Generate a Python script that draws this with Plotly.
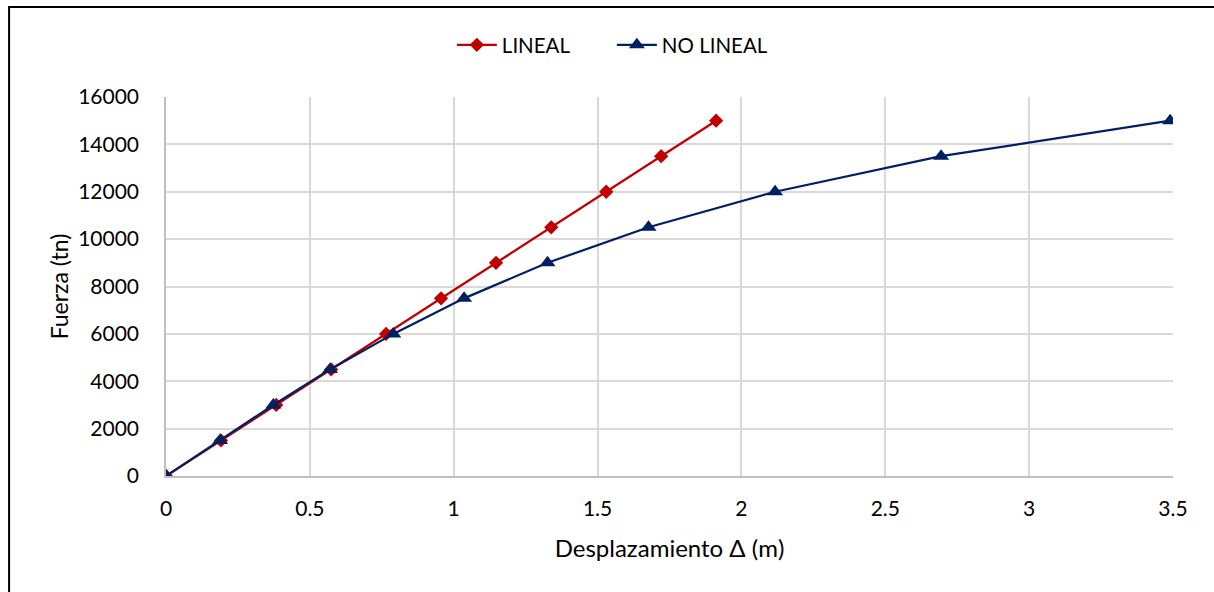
import plotly.graph_objects as go

fuerza = [0, 1500, 3000, 4500, 6000, 7500, 9000, 10500, 12000, 13500, 15000]
desp_lineal = [0, 0.191, 0.383, 0.574, 0.765, 0.956, 1.147, 1.339, 1.530, 1.721, 1.912]
desp_no_lineal = [0, 0.188, 0.373, 0.570, 0.790, 1.036, 1.326, 1.677, 2.117, 2.694, 3.49]

x_ticks = [0, 0.5, 1, 1.5, 2, 2.5, 3, 3.5]
x_tick_labels = ["0", "0.5", "1", "1.5", "2", "2.5", "3", "3.5"]
y_ticks = [0, 2000, 4000, 6000, 8000, 10000, 12000, 14000, 16000]
y_tick_labels = ["0", "2000", "4000", "6000", "8000", "10000", "12000", "14000", "16000"]

FONT = "Lato"

fig = go.Figure()
fig.add_trace(go.Scatter(
    x=desp_lineal, y=fuerza, name="LINEAL", mode="lines+markers",
    line=dict(color="#C00000", width=2.25),
    marker=dict(symbol="diamond", size=11, color="#C00000"),
))
fig.add_trace(go.Scatter(
    x=desp_no_lineal, y=fuerza, name="NO LINEAL", mode="lines+markers",
    line=dict(color="#002060", width=2.25),
    marker=dict(symbol="triangle-up", size=14, color="#002060"),
))

W, H = 1214, 592
L, R, T, B = 166, 40.5, 97, 116
pw = W - L - R
ph = H - T - B

fig.update_layout(
    width=W, height=H,
    margin=dict(l=L, r=R, t=T, b=B, pad=0),
    paper_bgcolor="white", plot_bgcolor="white",
    font=dict(family=FONT, size=21, color="#000000"),
    showlegend=True,
    legend=dict(orientation="h", x=(452 - L) / pw, xanchor="left",
                y=1 + (97 - 45) / ph, yanchor="middle",
                font=dict(family=FONT, size=20.5), itemwidth=40,
                entrywidth=105,
                bgcolor="rgba(0,0,0,0)"),
    xaxis=dict(range=[0, 3.5], tickvals=x_ticks, ticktext=x_tick_labels,
               showgrid=True, gridcolor="#d9d9d9", gridwidth=1.5,
               showline=True, linecolor="#bfbfbf", linewidth=1.5,
               zeroline=False, ticks="", ticklabelstandoff=13,
               tickfont=dict(family=FONT, size=21),
               title=dict(text="Desplazamiento Δ (m)", font=dict(family=FONT, size=24), standoff=21)),
    yaxis=dict(range=[0, 16000], tickvals=y_ticks, ticktext=y_tick_labels,
               showgrid=True, gridcolor="#d9d9d9", gridwidth=1.5,
               showline=True, linecolor="#bfbfbf", linewidth=1.5,
               zeroline=False, ticks="", ticklabelstandoff=21,
               tickfont=dict(family=FONT, size=21),
               title=dict(text="Fuerza (tn)", font=dict(family=FONT, size=23), standoff=3)),
)

# outer chart frame
fig.add_shape(type="rect", xref="paper", yref="paper",
              x0=(9 - L) / pw, x1=(W + 20 - L) / pw,
              y0=(H - B - (H + 20)) / ph, y1=(H - B - 7) / ph,
              line=dict(color="black", width=2), fillcolor="rgba(0,0,0,0)", layer="below")

fig.write_html("out.html")
